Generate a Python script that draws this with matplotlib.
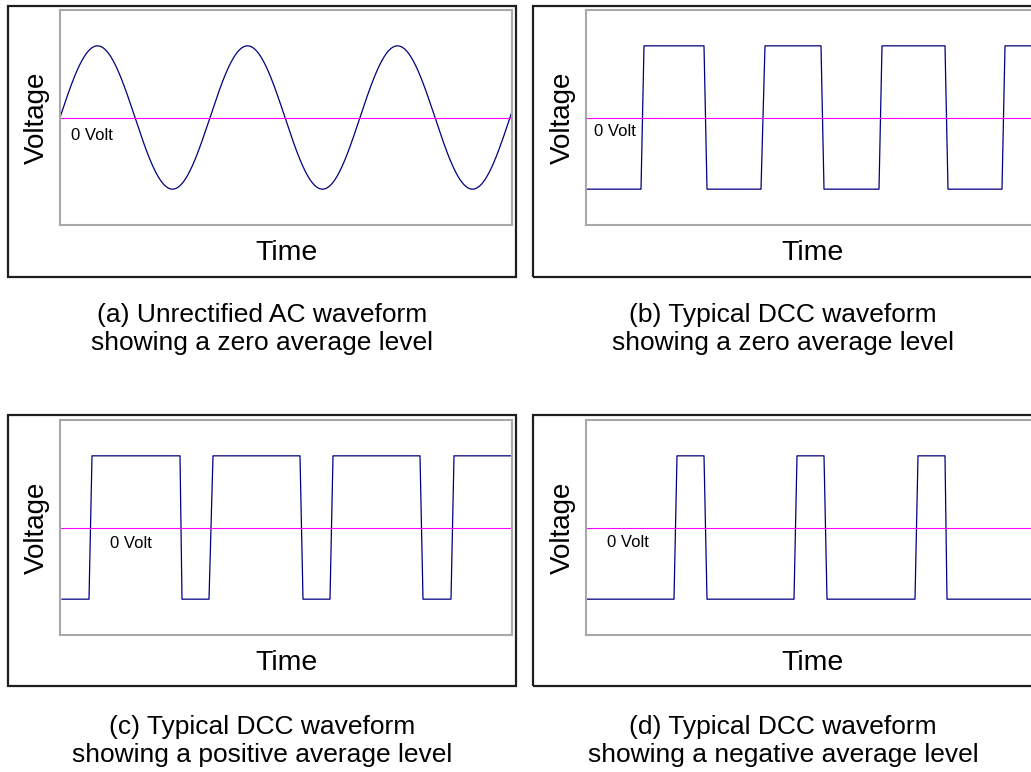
import numpy as np
import matplotlib.pyplot as plt
from matplotlib.patches import Rectangle

plt.rcParams['font.family'] = ['Liberation Sans', 'DejaVu Sans']

# time runs 0 .. 45.2 (arbitrary units), voltage is normalised to +/-1
t_end = 45.2

# (a) unrectified AC
sine_period = 15.0
sine_amp = 1.0

# (b) DCC, zero average: breakpoints (time, level)
b_t = [0.1, 5.5, 5.8, 11.8, 12.1, 17.5, 17.9, 23.5, 23.8, 29.3, 29.6, 35.9, 36.2, 41.6, 41.9, 45.2]
b_v = [-1, -1, 1, 1, -1, -1, 1, 1, -1, -1, 1, 1, -1, -1, 1, 1]

# (c) DCC, positive average
c_t = [0.2, 2.9, 3.2, 12.0, 12.2, 14.9, 15.3, 24.0, 24.3, 27.0, 27.3, 36.0, 36.3, 39.1, 39.4, 45.1]
c_v = [-1, -1, 1, 1, -1, -1, 1, 1, -1, -1, 1, 1, -1, -1, 1, 1]

# (d) DCC, negative average
d_t = [0.1, 8.8, 9.1, 11.8, 12.1, 20.8, 21.1, 23.8, 24.1, 32.9, 33.2, 35.9, 36.1, 45.2]
d_v = [-1, -1, 1, 1, -1, -1, 1, 1, -1, -1, 1, 1, -1, -1]

captions = [
    "(a) Unrectified AC waveform\nshowing a zero average level",
    "(b) Typical DCC waveform\nshowing a zero average level",
    "(c) Typical DCC waveform\nshowing a positive average level",
    "(d) Typical DCC waveform\nshowing a negative average level",
]

W, H = 1031, 772
fig = plt.figure(figsize=(W / 100, H / 100), dpi=100)


def fx(px):
    return px / W


def fy(py):
    return 1 - py / H


sine_t = np.linspace(0, t_end, 800)
sine_v = sine_amp * np.sin(2 * np.pi * sine_t / sine_period)

waves = [(sine_t, sine_v), (b_t, b_v), (c_t, c_v), (d_t, d_v)]

# layout in pixels: outer box left/top, axes left/top, caption centre, label offset
panels = [
    dict(box=(8, 6), ax=(60, 10), cap_x=262, cap_y=315, lab=(1.1, -0.25)),
    dict(box=(533, 6), ax=(586, 10), cap_x=783, cap_y=315, lab=(0.8, -0.19)),
    dict(box=(8, 415), ax=(60, 420), cap_x=262, cap_y=727, lab=(5.0, -0.22)),
    dict(box=(533, 415), ax=(586, 420), cap_x=783, cap_y=727, lab=(2.1, -0.21)),
]

for (t, v), p, cap in zip(waves, panels, captions):
    bx, by = p['box']
    fig.patches.append(Rectangle((fx(bx), fy(by + 271)), fx(508), 271 / H,
                                 transform=fig.transFigure, fill=False,
                                 edgecolor='#1e1e1e', lw=1.6))
    axl, axt = p['ax']
    ax = fig.add_axes([fx(axl), fy(axt + 215), fx(452), 215 / H])
    ax.plot(t, v, color='#00007f', lw=0.9)
    ax.axhline(0, color='#ff00ff', lw=0.8)
    ax.set_xlim(0, t_end)
    ax.set_ylim(-1.5, 1.5)
    ax.set_xticks([])
    ax.set_yticks([])
    for s in ax.spines.values():
        s.set_color('#a8a8a8')
        s.set_linewidth(1.5)
    ax.text(p['lab'][0], p['lab'][1], "0 Volt", fontsize=12, va='center', ha='left')
    ax.text(-0.051, 0.5, "Voltage", rotation=90, fontsize=20, ha='center',
            va='center', transform=ax.transAxes)
    ax.text(0.5, -0.163, "Time", fontsize=20.5, ha='center', va='baseline',
            transform=ax.transAxes)
    fig.text(fx(p['cap_x']), fy(p['cap_y'] + 14), cap, fontsize=19, ha='center',
             va='center', linespacing=1.18)

fig.savefig("out.png", dpi=100)
